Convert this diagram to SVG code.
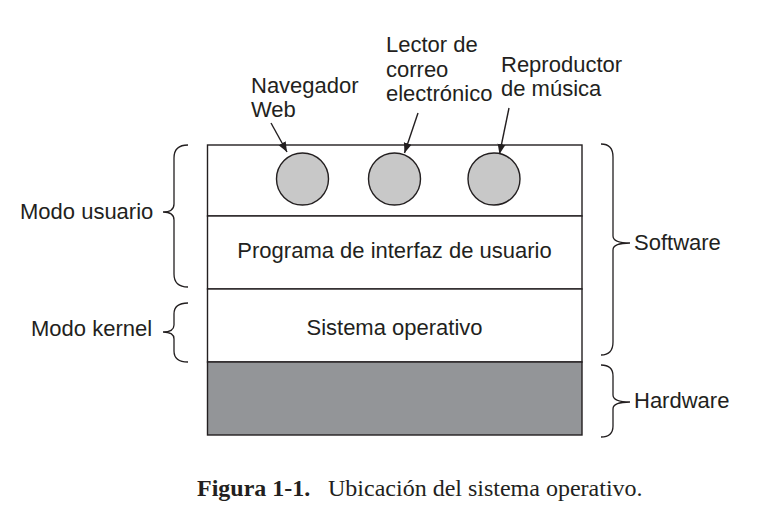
<svg xmlns="http://www.w3.org/2000/svg" width="770" height="526" viewBox="0 0 770 526">
<style>
.t{font-family:"Liberation Sans",Arial,sans-serif;font-size:22px;fill:#231f20}
.ln{fill:none;stroke:#231f20;stroke-width:1.4}
.box{fill:#fff;stroke:#231f20;stroke-width:1.4}
.app{fill:#c8c8c8;stroke:#231f20;stroke-width:1.4}
.hw{fill:#939598;stroke:#231f20;stroke-width:1.4}
.br{fill:none;stroke:#231f20;stroke-width:1.3}
.cap{font-family:"Liberation Serif","Times New Roman",serif;font-size:24px;fill:#231f20}
</style>
<defs>
<marker id="ah" viewBox="0 0 10 10" refX="10" refY="5" markerWidth="10" markerHeight="10" markerUnits="userSpaceOnUse" orient="auto">
<path d="M0,1 L10,5 L0,9 Z" fill="#231f20"/>
</marker>
</defs>
<rect width="770" height="526" fill="#fff"/>
<g id="user-layer">
<rect x="207.5" y="145" width="374.5" height="71" class="box"/>
</g>
<g id="web"><circle cx="302.5" cy="179" r="26" class="app"/></g>
<g id="mail"><circle cx="394.5" cy="179" r="26" class="app"/></g>
<g id="music"><circle cx="494" cy="179" r="26" class="app"/></g>
<g id="ui-program">
<rect x="207.5" y="216" width="374.5" height="73" class="box"/>
<text class="t" x="394.5" y="258" text-anchor="middle">Programa de interfaz de usuario</text>
</g>
<g id="os">
<rect x="207.5" y="289" width="374.5" height="73" class="box"/>
<text class="t" x="394.5" y="335" text-anchor="middle">Sistema operativo</text>
</g>
<g id="hardware-layer">
<rect x="207.5" y="362" width="374.5" height="73" class="hw"/>
</g>
<g id="labels">
<text class="t" x="251" y="93">Navegador</text>
<text class="t" x="251" y="117">Web</text>
<text class="t" x="386" y="52">Lector de</text>
<text class="t" x="386" y="77">correo</text>
<text class="t" x="386" y="101">electrónico</text>
<text class="t" x="501" y="72">Reproductor</text>
<text class="t" x="501" y="96">de música</text>
<text class="t" x="20" y="219">Modo usuario</text>
<text class="t" x="31" y="336">Modo kernel</text>
<text class="t" x="634" y="250">Software</text>
<text class="t" x="634" y="408">Hardware</text>
</g>
<g id="connectors">
<line class="ln" x1="271" y1="123" x2="287" y2="152" marker-end="url(#ah)"/>
<line class="ln" x1="418" y1="113" x2="404.5" y2="153" marker-end="url(#ah)"/>
<line class="ln" x1="509" y1="108" x2="499.5" y2="154" marker-end="url(#ah)"/>
<path class="br" d="M188,145 Q174,145 174,158 L174,204 Q174,212 163,212 Q174,212 174,220 L174,274 Q174,287 188,287"/>
<path class="br" d="M188,303 Q174,303 174,314 L174,325 Q174,332 163,332 Q174,332 174,339 L174,351 Q174,362 188,362"/>
<path class="br" d="M601,144 Q613,144 613,157 L613,236 Q613,243 630,243 Q613,243 613,250 L613,342 Q613,355 601,355"/>
<path class="br" d="M601,365 Q613,365 613,376 L613,395 Q613,402 630,402 Q613,402 613,409 L613,426 Q613,437 601,437"/>
</g>
<g id="caption">
<text class="cap" x="197" y="496" font-weight="bold">Figura 1-1.</text>
<text class="cap" x="328" y="496">Ubicación del sistema operativo.</text>
</g>
</svg>
